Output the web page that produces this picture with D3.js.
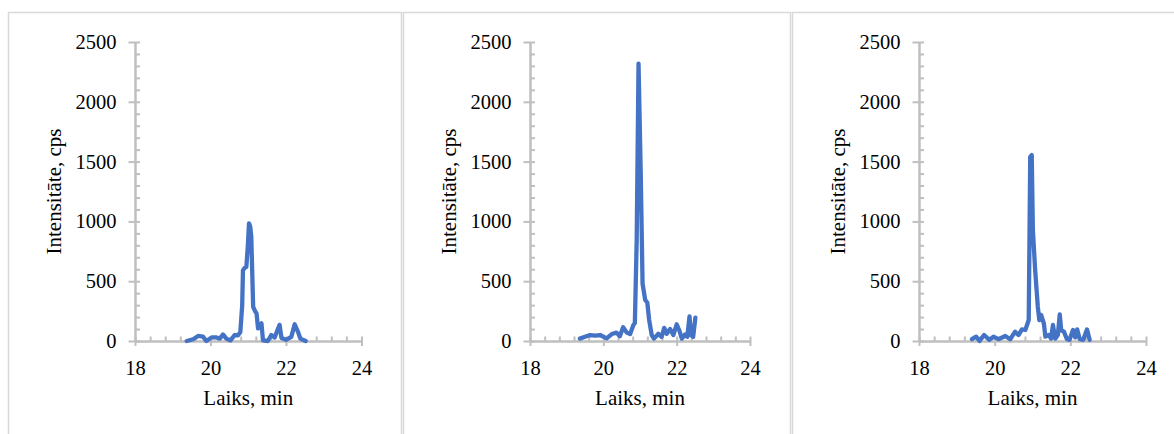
<!DOCTYPE html>
<html>
<head>
<meta charset="utf-8">
<script src="https://cdn.jsdelivr.net/npm/d3@7"></script>
<style>
  body { margin: 0; background: #fff; }
  svg text { font-family: "Liberation Serif", "Times New Roman", serif; fill: #000; }
</style>
</head>
<body>
<div class="root"></div>
<script>
// chromatogram 1
const time1 = [19.37, 19.54, 19.67, 19.8, 19.89, 20.03, 20.16, 20.25, 20.33, 20.42, 20.53, 20.64, 20.73, 20.79,
  20.84, 20.86, 20.9, 20.95, 20.99, 21.02, 21.05, 21.08, 21.13, 21.18, 21.22, 21.26, 21.3, 21.35, 21.39,
  21.52, 21.61, 21.7, 21.76, 21.83, 21.88, 22.0, 22.14, 22.23, 22.32, 22.38, 22.52];
const int1 = [0, 15, 42, 36, 0, 30, 30, 20, 55, 20, 5, 50, 48, 75,
  300, 590, 610, 620, 800, 984, 960, 875, 285, 250, 230, 105, 130, 148, 5,
  0, 50, 30, 80, 135, 25, 10, 35, 140, 75, 20, 0];

// chromatogram 2
const time2 = [19.36, 19.5, 19.64, 19.78, 19.91, 20.09, 20.23, 20.36, 20.45, 20.54, 20.64, 20.73, 20.82, 20.86,
  20.91, 20.96, 21.02, 21.07, 21.14, 21.2, 21.25, 21.32, 21.38, 21.5, 21.59, 21.66, 21.73, 21.82, 21.91,
  22.0, 22.07, 22.14, 22.23, 22.29, 22.35, 22.39, 22.45, 22.51];
const int2 = [20, 35, 50, 45, 50, 22, 58, 70, 40, 115, 70, 58, 133, 150,
  845, 2320, 1400, 480, 345, 320, 175, 50, 20, 60, 35, 110, 60, 100, 50,
  140, 90, 20, 55, 35, 205, 50, 35, 195];

// chromatogram 3
const time3 = [19.4, 19.51, 19.6, 19.72, 19.86, 19.97, 20.1, 20.28, 20.41, 20.54, 20.63, 20.72, 20.81, 20.9,
  20.94, 20.98, 21.01, 21.07, 21.14, 21.18, 21.23, 21.3, 21.34, 21.43, 21.49, 21.54, 21.6, 21.67, 21.72,
  21.76, 21.83, 21.91, 21.98, 22.07, 22.13, 22.18, 22.25, 22.34, 22.44, 22.51];
const int3 = [15, 36, 0, 50, 10, 36, 15, 42, 15, 78, 50, 97, 92, 175,
  1540, 1555, 928, 594, 287, 175, 217, 148, 36, 50, 20, 134, 20, 50, 223,
  90, 78, 15, 10, 92, 30, 97, 15, 10, 97, 10];

const xTicks = [18, 20, 22, 24];
const yTicks = [0, 500, 1000, 1500, 2000, 2500];
const xTitle = "Laiks, min";
const yTitle = "Intensitāte, cps";

const width = 1174;
const height = 434;
const grey = "#bfbfbf";
const frame = "#d9d9d9";
const blue = "#4472c4";
const serif = '"Liberation Serif", "Times New Roman", serif';

const top0 = 42;
const bottom0 = 341;
const layout = [
  { time: time1, value: int1, left: 8.5, right: 401.5, x0: 135, x1: 361.5 },
  { time: time2, value: int2, left: 403.5, right: 790.5, x0: 530, x1: 750 },
  { time: time3, value: int3, left: 792.5, right: 1180, x0: 919, x1: 1146 }
];

const svg = d3
  .select("div.root")
  .append("svg")
  .attr("width", width)
  .attr("height", height);

svg.append("rect").attr("width", width).attr("height", height).attr("fill", "#fff");

const xMinor = d3.range(0, 16).map(i => 18 + i * 0.4);
const yMinor = d3.range(0, 26).map(i => i * 100);
const fmt = d3.format("d");

layout.forEach(p => {
  // chart frame
  svg
    .append("rect")
    .attr("x", p.left)
    .attr("y", 12.5)
    .attr("width", p.right - p.left)
    .attr("height", height)
    .attr("fill", "none")
    .attr("stroke", frame)
    .attr("stroke-width", 1.5);

  const xscale = d3.scaleLinear().domain([18, 24]).range([p.x0, p.x1]);
  const yscale = d3.scaleLinear().domain([0, 2500]).range([bottom0, top0]);

  const g = svg.append("g");

  // y axis: major ticks cross, minor inside
  g.append("g")
    .attr("transform", `translate(${p.x0},0)`)
    .call(d3.axisRight(yscale).tickValues(yMinor).tickSize(5).tickSizeOuter(0).tickFormat(""));
  g.append("g")
    .attr("transform", `translate(${p.x0},0)`)
    .call(d3.axisLeft(yscale).tickValues(yTicks).tickSize(6.5).tickSizeOuter(0).tickPadding(12).tickFormat(fmt));

  // x axis
  g.append("g")
    .attr("transform", `translate(0,${bottom0})`)
    .call(d3.axisTop(xscale).tickValues(xMinor).tickSize(4.5).tickSizeOuter(0).tickFormat(""));
  g.append("g")
    .attr("transform", `translate(0,${bottom0})`)
    .call(d3.axisBottom(xscale).tickValues(xTicks).tickSize(5).tickSizeOuter(0).tickPadding(14).tickFormat(fmt));

  g.selectAll("path.domain").attr("stroke", grey).attr("stroke-width", 2);
  g.selectAll(".tick line").attr("stroke", grey).attr("stroke-width", 2);
  g.selectAll("g").attr("font-family", serif);
  g.selectAll(".tick text").attr("font-size", 20.5).attr("font-family", serif).attr("fill", "#000");

  // trace
  const pts = p.time.map((t, i) => [t, p.value[i]]);
  const line = d3
    .line()
    .x(d => xscale(d[0]))
    .y(d => yscale(d[1]));
  svg
    .append("path")
    .datum(pts)
    .attr("d", line)
    .attr("fill", "none")
    .attr("stroke", blue)
    .attr("stroke-width", 4.3)
    .attr("stroke-linejoin", "round")
    .attr("stroke-linecap", "round");

  svg
    .append("text")
    .attr("x", (p.x0 + p.x1) / 2)
    .attr("y", 405)
    .attr("text-anchor", "middle")
    .attr("font-size", 21)
    .text(xTitle);

  svg
    .append("text")
    .attr("transform", `translate(${p.x0 - 74},${(top0 + bottom0) / 2}) rotate(-90)`)
    .attr("text-anchor", "middle")
    .attr("font-size", 21)
    .text(yTitle);
});
</script>
</body>
</html>
